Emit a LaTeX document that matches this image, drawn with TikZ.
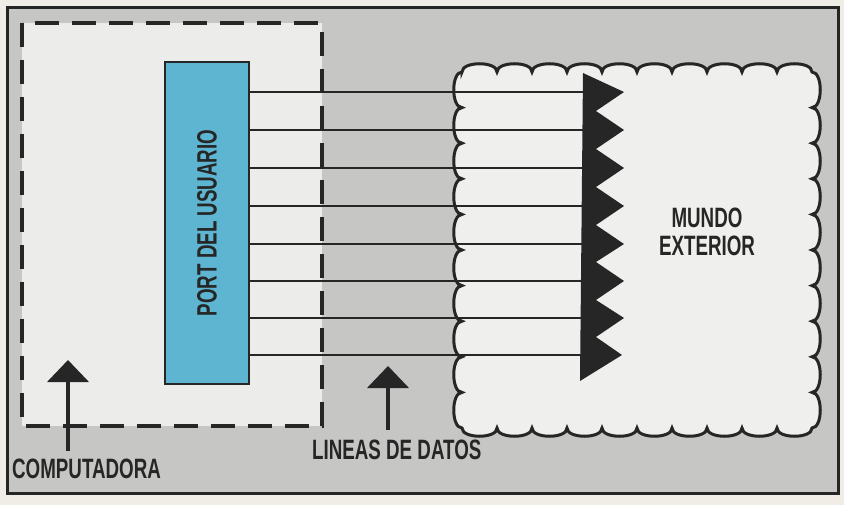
\documentclass[tikz,border=0pt]{standalone}
\usepackage{fontspec}
\newfontfamily\condf[FakeStretch=0.67]{Liberation Sans}
\usetikzlibrary{arrows.meta}
\definecolor{paper}{HTML}{EFEDE6}
\definecolor{framegray}{HTML}{C6C6C4}
\definecolor{boxgray}{HTML}{ECECEA}
\definecolor{cloudgray}{HTML}{EFEFED}
\definecolor{portblue}{HTML}{5DB5D2}
\definecolor{ink}{HTML}{262626}
\begin{document}
\begin{tikzpicture}[x=1pt,y=-1pt,
  lab/.style={font=\condf\bfseries\fontsize{28}{30}\selectfont, text=ink, inner sep=0pt, align=center},
  portbox/.style={draw=ink, line width=2.5pt, fill=portblue, minimum width=84pt, minimum height=322pt, inner sep=0pt},
  dataline/.style={draw=ink, line width=2.8pt},
  uparrow/.style={draw=ink, line width=4pt, -{Triangle[width=41pt,length=22pt]}},
]
\useasboundingbox (0,0) rectangle (844,505);
\fill[paper] (0,0) rectangle (844,505);
% outer frame
\draw[ink, line width=3pt, fill=framegray] (7,8) rectangle (838,493);
% computer dashed box
\draw[ink, line width=4pt, fill=boxgray, dash pattern=on 24pt off 13pt] (22,23) rectangle (322,426);
% outside world cloud (scalloped)
\draw[ink, line width=3pt, fill=cloudgray, line join=miter]
  (462,72)
  \foreach \i in {1,...,10}{ .. controls ({462+35*(\i-1)},61) and ({462+35*\i},61) .. ({462+35*\i},72) }
  \foreach \i in {1,...,10}{ .. controls (823,{72+35.6*(\i-1)}) and (823,{72+35.6*\i}) .. (812,{72+35.6*\i}) }
  \foreach \i in {1,...,10}{ .. controls ({812-35*(\i-1)},439) and ({812-35*\i},439) .. ({812-35*\i},428) }
  \foreach \i in {1,...,10}{ .. controls (451,{428-35.6*(\i-1)}) and (451,{428-35.6*\i}) .. (462,{428-35.6*\i}) }
  -- cycle;
% port
\node[portbox] (port) at (207,223) {};
\node[lab, rotate=90] (portlab) at (port.center) {PORT DEL USUARIO};
% data lines
\foreach \i/\y in {1/92,2/130,3/168,4/206,5/244,6/281,7/318,8/355}{
  \coordinate (t\i) at (590,\y);
  \draw[dataline] (port.east |- t\i) -- (t\i);
}
% sawtooth arrow heads
\fill[ink] (583,73)
  -- (624,92) -- (596,111)
  -- (624,130) -- (596,149)
  -- (624,168) -- (596,187)
  -- (624,206) -- (596,225)
  -- (624,244) -- (596,262)
  -- (624,281) -- (596,300)
  -- (624,318) -- (596,337)
  -- (622,355) -- (580,381) -- cycle;
% labels
\node[lab] (mundo) at (707,232) {MUNDO\\[-2pt]EXTERIOR};
\node[lab, anchor=west] (comp) at (12,469) {COMPUTADORA};
\node[lab, anchor=west] (lineas) at (312,450) {LINEAS DE DATOS};
% pointer arrows
\coordinate (ca) at (68,451);
\coordinate (cat) at (68,360);
\draw[uparrow] (ca) -- (cat);
\coordinate (la) at (388,430);
\coordinate (lat) at (388,366);
\draw[uparrow] (la) -- (lat);
\end{tikzpicture}
\end{document}
